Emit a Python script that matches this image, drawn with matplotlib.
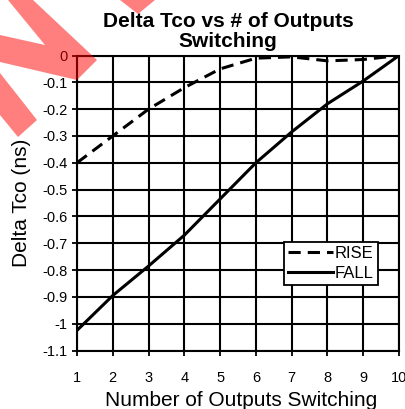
import matplotlib
matplotlib.use("Agg")
import matplotlib.pyplot as plt
from matplotlib.patches import Polygon

plt.rcParams["font.family"] = ["Liberation Sans", "DejaVu Sans"]

# outputs switching vs change in clock-to-out (ns)
outputs = [1, 2, 3, 4, 5, 6, 7, 8, 9, 10]
rise = [-0.40, -0.30, -0.20, -0.12, -0.05, -0.01, -0.005, -0.02, -0.015, 0.0]
fall = [-1.025, -0.895, -0.785, -0.67, -0.535, -0.40, -0.285, -0.18, -0.095, 0.0]
y_ticks = [0, -0.1, -0.2, -0.3, -0.4, -0.5, -0.6, -0.7, -0.8, -0.9, -1, -1.1]
y_tick_labels = ["0", "-0.1", "-0.2", "-0.3", "-0.4", "-0.5", "-0.6", "-0.7",
                 "-0.8", "-0.9", "-1", "-1.1"]

W, H = 406, 409
fig = plt.figure(figsize=(W / 100, H / 100), dpi=100)
ax = fig.add_axes([77 / W, 1 - 350.5 / H, (399 - 77) / W, (350.5 - 55.5) / H])

ax.plot(outputs, rise, color="black", lw=2.2, ls=(0, (4, 2.3)), label="RISE", zorder=3)
ax.plot(outputs, fall, color="black", lw=2.2, label="FALL", zorder=3)

ax.set_xlim(1, 10)
ax.set_ylim(-1.1, 0)
ax.set_xticks(outputs)
ax.set_yticks(y_ticks)
ax.set_yticklabels(y_tick_labels)
ax.grid(True, color="black", lw=1.5)
ax.set_axisbelow(True)
for s in ax.spines.values():
    s.set_linewidth(1.5)
    s.set_color("black")
ax.tick_params(axis="both", direction="out", length=3.6, width=1.3, labelsize=10.5)
ax.tick_params(axis="x", pad=11)
ax.tick_params(axis="y", pad=3)

ax.set_xlabel("Number of Outputs Switching", fontsize=15, va="baseline")
ax.xaxis.set_label_coords(0.51, (350.5 - 406) / 295)
ax.set_ylabel("Delta Tco (ns)", fontsize=15, va="center")
ax.yaxis.set_label_coords((22 - 77) / 322, 0.5)

fig.text(228 / W, 1 - 27 / H, "Delta Tco vs # of Outputs", ha="center",
         va="baseline", fontsize=15, fontweight="bold")
fig.text(228 / W, 1 - 47 / H, "Switching", ha="center",
         va="baseline", fontsize=15, fontweight="bold")

leg = ax.legend(loc="lower left", bbox_to_anchor=(0.643, 0.222), borderaxespad=0,
                fontsize=12, handlelength=2.7, handletextpad=0.1, borderpad=0.25,
                labelspacing=0.3, fancybox=False, framealpha=1, edgecolor="black")
leg.get_frame().set_linewidth(1.3)

# red stamp strokes across the top-left corner
stamp = [
    [(8, 0), (33, 0), (97, 60), (77, 80), (0, 62), (0, 35), (45, 45)],
    [(0, 73), (37, 120), (18, 137), (0, 115)],
    [(120, 0), (155, 0), (138, 14)],
]
for pts in stamp:
    verts = [(x / W, 1 - y / H) for x, y in pts]
    fig.add_artist(Polygon(verts, closed=True, transform=fig.transFigure,
                           facecolor="red", edgecolor="none", alpha=0.5, zorder=10))

fig.savefig("out.png", dpi=100)
